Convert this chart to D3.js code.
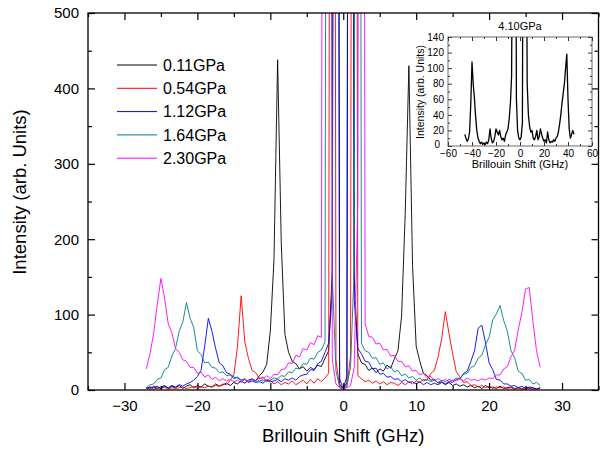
<!DOCTYPE html>
<html>
<head>
<meta charset="utf-8">
<script src="https://cdn.jsdelivr.net/npm/d3@7"></script>
<style>
  body { margin: 0; background: #fff; }
  text { font-family: "Liberation Sans", Arial, sans-serif; fill: #000; }
</style>
</head>
<body>
<svg id="chart" width="600" height="449"></svg>
<script>
// sample grid of the spectra (GHz)
const shiftGHz = d3.range(-27, 27.5, 0.5);
const insetShift = d3.range(-46, 46, 1);

const pressures = ["0.11GPa", "0.54GPa", "1.12GPa", "1.64GPa", "2.30GPa"];
const colors = ["#000000", "#ff0000", "#0000ff", "#008080", "#ff00ff"];

const int011 = [
  3, 1, 5, 2, 4, 6, 2, 5, 3, 6,
  2, 5, 7, 3, 6, 4, 8, 5, 4, 8,
  5, 7, 9, 6, 10, 8, 12, 9, 13, 15,
  12, 19, 24, 34, 78, 172, 438, 195, 74, 50,
  38, 35, 28, 31, 25, 30, 27, 33, 31, 42,
  52, 160, 3000, 8, 2, 10, 3000, 150, 48, 36,
  34, 26, 29, 23, 28, 25, 33, 29, 41, 52,
  98, 235, 430, 165, 58, 38, 22, 19, 13, 14,
  9, 11, 7, 10, 6, 8, 5, 7, 4, 6,
  3, 5, 2, 6, 3, 4, 2, 5, 2, 3,
  4, 2, 3, 1, 4, 2, 3, 1, 3
];
const int054 = [
  2, 4, 1, 3, 2, 4, 1, 3, 2, 3,
  4, 2, 3, 5, 2, 4, 3, 5, 4, 6,
  5, 8, 7, 13, 20, 58, 125, 64, 42, 26,
  23, 15, 17, 11, 13, 8, 11, 7, 10, 8,
  12, 7, 10, 13, 8, 14, 9, 15, 11, 16,
  22, 3000, 40, 3, 1, 4, 45, 3000, 19, 15,
  11, 13, 9, 12, 8, 11, 7, 10, 9, 6,
  10, 7, 11, 8, 12, 10, 14, 13, 22, 26,
  44, 68, 104, 75, 48, 24, 17, 10, 11, 6,
  7, 4, 6, 3, 5, 2, 4, 3, 4, 2,
  3, 1, 3, 2, 1, 3, 1, 2, 2
];
const int112 = [
  2, 4, 3, 5, 2, 5, 3, 6, 4, 7,
  5, 8, 10, 13, 18, 26, 58, 95, 78, 55,
  36, 32, 23, 21, 17, 16, 13, 14, 10, 12,
  10, 11, 9, 13, 11, 12, 14, 11, 15, 13,
  16, 13, 18, 20, 21, 27, 26, 35, 38, 50,
  62, 130, 3000, 15, 2, 18, 3000, 120, 55, 48,
  38, 37, 28, 29, 21, 22, 17, 18, 14, 15,
  11, 14, 10, 11, 8, 11, 7, 10, 7, 9,
  7, 10, 8, 11, 10, 14, 15, 22, 25, 38,
  52, 82, 86, 63, 36, 27, 14, 13, 8, 8,
  5, 6, 3, 5, 2, 4, 3, 1, 3
];
const int164 = [
  3, 7, 8, 14, 16, 27, 30, 45, 55, 78,
  90, 116, 95, 83, 52, 47, 36, 37, 30, 29,
  23, 24, 19, 20, 15, 17, 13, 15, 11, 14,
  10, 13, 12, 14, 13, 16, 15, 19, 18, 24,
  23, 29, 28, 35, 34, 42, 41, 50, 53, 64,
  3000, 150, 25, 5, 2, 6, 30, 160, 3000, 62,
  52, 50, 42, 43, 34, 36, 28, 31, 24, 26,
  19, 21, 16, 18, 13, 16, 12, 14, 11, 13,
  10, 13, 11, 14, 12, 16, 15, 21, 22, 30,
  32, 42, 46, 60, 70, 93, 101, 112, 92, 78,
  52, 43, 25, 22, 13, 14, 8, 10, 6
];
const int230 = [
  28, 48, 75, 114, 148, 122, 88, 76, 55, 50,
  40, 38, 30, 30, 22, 24, 17, 20, 14, 17,
  12, 15, 12, 14, 11, 13, 10, 14, 11, 15,
  12, 16, 14, 19, 15, 21, 20, 27, 28, 36,
  35, 46, 44, 55, 53, 63, 60, 72, 70, 3000,
  3000, 40, 8, 3, 2, 3, 6, 30, 250, 3000,
  88, 71, 70, 61, 62, 53, 54, 45, 46, 38,
  38, 31, 32, 25, 26, 20, 22, 16, 18, 13,
  15, 12, 14, 11, 13, 12, 15, 12, 16, 13,
  14, 12, 15, 13, 16, 15, 20, 20, 28, 31,
  44, 53, 80, 103, 134, 136, 92, 52, 30
];
const series = [int011, int054, int112, int164, int230];

// inset: 4.10 GPa
const insetLabel = "4.10GPa";
const int410 = [
  15, 10, 6, 9, 18, 55, 108, 80, 62, 38,
  20, 10, 6, 3, 5, 2, 4, 2, 5, 3,
  8, 22, 10, 4, 6, 12, 22, 18, 14, 20,
  12, 8, 10, 6, 14, 18, 22, 35, 55, 90,
  400, 600, 600, 60, 20, 10, 8, 12, 30, 600,
  600, 400, 80, 40, 25, 18, 20, 10, 8, 12,
  20, 8, 12, 22, 15, 10, 6, 8, 4, 18,
  8, 4, 6, 5, 8, 6, 10, 12, 18, 28,
  40, 55, 68, 80, 100, 118, 60, 22, 10, 15,
  20, 15
];

const xMajor = [-30, -20, -10, 0, 10, 20, 30];
const xMinor = [-35, -25, -15, -5, 5, 15, 25, 35];
const yMajor = [0, 100, 200, 300, 400, 500];
const yMinor = [50, 150, 250, 350, 450];
const insetXMajor = [-60, -40, -20, 0, 20, 40, 60];
const insetXMinor = [-50, -30, -10, 10, 30, 50];
const insetYMajor = [0, 20, 40, 60, 80, 100, 120, 140];
const insetYMinor = [10, 30, 50, 70, 90, 110, 130];

const svg = d3.select("svg#chart");
const pL = 88, pR = 598.5, pT = 13, pB = 390;

const x = d3.scaleLinear().domain([-35, 35]).range([pL, pR]);
const y = d3.scaleLinear().domain([0, 500]).range([pB, pT]);

svg.append("clipPath").attr("id", "clipMain")
  .append("rect").attr("x", pL).attr("y", pT)
  .attr("width", pR - pL).attr("height", pB - pT);

const line = d3.line()
  .x((d, i) => x(shiftGHz[i]))
  .y(d => y(d));

svg.append("g").attr("clip-path", "url(#clipMain)")
  .selectAll("path")
  .data(series)
  .join("path")
  .attr("fill", "none")
  .attr("stroke", (d, i) => colors[i])
  .attr("stroke-width", 0.9)
  .attr("stroke-linejoin", "round")
  .attr("d", line);

// axes, ticks drawn inward on all four sides
function ticks(axis, pos, size) {
  const g = svg.append("g").attr("transform", pos).call(axis.tickSize(size));
  g.select(".domain").remove();
  g.selectAll("line").attr("stroke", "#000").attr("stroke-width", 1.2);
  return g;
}
const fmt = d3.format("d");
ticks(d3.axisBottom(x).tickValues(xMajor).tickFormat(fmt).tickPadding(10), `translate(0,${pB})`, -7)
  .selectAll("text").attr("font-size", 15).attr("fill", "#000");
ticks(d3.axisBottom(x).tickValues(xMinor).tickFormat(""), `translate(0,${pB})`, -4);
ticks(d3.axisTop(x).tickValues(xMajor).tickFormat(""), `translate(0,${pT})`, -7);
ticks(d3.axisTop(x).tickValues(xMinor).tickFormat(""), `translate(0,${pT})`, -4);
ticks(d3.axisLeft(y).tickValues(yMajor).tickFormat(fmt).tickPadding(9), `translate(${pL},0)`, -7)
  .selectAll("text").attr("font-size", 15).attr("fill", "#000");
ticks(d3.axisLeft(y).tickValues(yMinor).tickFormat(""), `translate(${pL},0)`, -4);
ticks(d3.axisRight(y).tickValues(yMajor).tickFormat(""), `translate(${pR},0)`, -7);
ticks(d3.axisRight(y).tickValues(yMinor).tickFormat(""), `translate(${pR},0)`, -4);

svg.append("rect")
  .attr("x", pL).attr("y", pT)
  .attr("width", pR - pL).attr("height", pB - pT)
  .attr("fill", "none").attr("stroke", "#000").attr("stroke-width", 1.3);

svg.append("text")
  .attr("x", (pL + pR) / 2).attr("y", 442)
  .attr("text-anchor", "middle").attr("font-size", 18.5)
  .text("Brillouin Shift (GHz)");
svg.append("text")
  .attr("transform", "translate(26,192) rotate(-90)")
  .attr("text-anchor", "middle").attr("font-size", 18.5)
  .text("Intensity (arb. Units)");

// legend
const legend = svg.append("g").selectAll("g")
  .data(pressures)
  .join("g")
  .attr("transform", (d, i) => `translate(117,${65 + i * 23.3})`);
legend.append("line")
  .attr("x1", 0).attr("x2", 40)
  .attr("stroke", (d, i) => colors[i]).attr("stroke-width", 1);
legend.append("text")
  .attr("x", 46).attr("dy", "0.35em")
  .attr("font-size", 16)
  .text(d => d);

// inset
const xi = d3.scaleLinear().domain([-60, 60]).range([448, 592]);
const yi = d3.scaleLinear().domain([0, 140]).range([146, 37]);

svg.append("clipPath").attr("id", "clipInset")
  .append("rect").attr("x", 448).attr("y", 37).attr("width", 144).attr("height", 109);

svg.append("rect")
  .attr("x", 448).attr("y", 37).attr("width", 144).attr("height", 109)
  .attr("fill", "#fff");

svg.append("path")
  .datum(int410)
  .attr("clip-path", "url(#clipInset)")
  .attr("fill", "none").attr("stroke", "#000").attr("stroke-width", 1.3)
  .attr("stroke-linejoin", "round")
  .attr("d", d3.line().x((d, i) => xi(insetShift[i])).y(d => yi(d)));

function insetTicks(axis, pos, size) {
  const g = svg.append("g").attr("transform", pos).call(axis.tickSize(size));
  g.select(".domain").remove();
  g.selectAll("line").attr("stroke", "#000").attr("stroke-width", 0.8);
  g.selectAll("text").attr("font-size", 10).attr("fill", "#000");
  return g;
}
insetTicks(d3.axisBottom(xi).tickValues(insetXMajor).tickFormat(fmt).tickPadding(4), "translate(0,146)", -4);
insetTicks(d3.axisBottom(xi).tickValues(insetXMinor).tickFormat(""), "translate(0,146)", -2);
insetTicks(d3.axisTop(xi).tickValues(insetXMajor).tickFormat(""), "translate(0,37)", -4);
insetTicks(d3.axisTop(xi).tickValues(insetXMinor).tickFormat(""), "translate(0,37)", -2);
const insetLeft = insetTicks(d3.axisLeft(yi).tickValues(insetYMajor).tickFormat(fmt).tickPadding(4), "translate(448,0)", -4);
// pull the bottom "0" label a little away from the "-60" below it
insetLeft.selectAll("text").filter(d => d === 0).attr("x", -8).attr("dy", "0.1em");
insetTicks(d3.axisLeft(yi).tickValues(insetYMinor).tickFormat(""), "translate(448,0)", -2);
insetTicks(d3.axisRight(yi).tickValues(insetYMajor).tickFormat(""), "translate(592,0)", -4);
insetTicks(d3.axisRight(yi).tickValues(insetYMinor).tickFormat(""), "translate(592,0)", -2);

svg.append("rect")
  .attr("x", 448).attr("y", 37).attr("width", 144).attr("height", 109)
  .attr("fill", "none").attr("stroke", "#444").attr("stroke-width", 0.8);

svg.append("text")
  .attr("x", 520).attr("y", 30)
  .attr("text-anchor", "middle").attr("font-size", 11)
  .text(insetLabel);
svg.append("text")
  .attr("x", 520).attr("y", 168)
  .attr("text-anchor", "middle").attr("font-size", 11)
  .text("Brillouin Shift (GHz)");
svg.append("text")
  .attr("transform", "translate(424,92) rotate(-90)")
  .attr("text-anchor", "middle").attr("font-size", 10.5)
  .text("Intensity (arb. Units)");
</script>
</body>
</html>
